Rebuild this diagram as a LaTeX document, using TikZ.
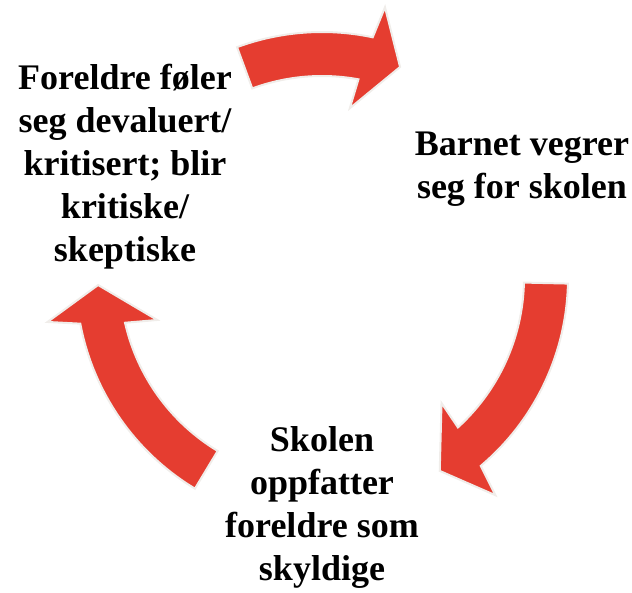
\documentclass[tikz,border=0pt]{standalone}
\usepackage{fontspec}
\setmainfont{Liberation Serif}
\usetikzlibrary{positioning}

\definecolor{arrowred}{RGB}{229,61,48}
\definecolor{rimgray}{RGB}{240,237,234}

\tikzset{
  cyclearrow/.style={fill=arrowred, draw=rimgray, line width=2pt, line join=miter},
  steptext/.style={align=center, inner sep=0pt, font=\fontsize{36}{43}\selectfont\bfseries}
}

\begin{document}
\begin{tikzpicture}[x=1pt,y=1pt]

    \useasboundingbox (0,0) rectangle (632,592);

    % Cycle steps
    \node[steptext] (parents) at (125,425) {Foreldre føler\\seg devaluert/\\kritisert; blir\\kritiske/\\skeptiske};
    \node[steptext] (child) at (522,423) {Barnet vegrer\\seg for skolen};
    \node[steptext] (school) at (322,85) {Skolen\\oppfatter\\foreldre som\\skyldige};

    % Curved arrows round the centre
    \begin{scope}[shift={(322,314)}]
    \coordinate (hub) at (0,0);

    % parents -> child
    \draw[cyclearrow] (110.2:246) arc[start angle=110.2, end angle=78.1, radius=246]
        -- (76.9:278) -- (69.7:225) -- (80.7:172) -- (79.6:202)
        arc[start angle=79.6, end angle=110.2, radius=202] -- cycle;

    % child -> school
    \draw[cyclearrow] (-1.3:246) arc[start angle=-1.3, end angle=-49.8, radius=246]
        -- (-51.4:278) -- (-58.6:226) -- (-46.3:173) -- (-47.7:202)
        arc[start angle=-47.7, end angle=-1.3, radius=202] -- cycle;

    % school -> parents
    \draw[cyclearrow] (238.9:246) arc[start angle=238.9, end angle=190.7, radius=246]
        -- (189.1:278) -- (181.8:224) -- (194.3:170) -- (192.8:202)
        arc[start angle=192.8, end angle=238.9, radius=202] -- cycle;
    \end{scope}

\end{tikzpicture}
\end{document}
